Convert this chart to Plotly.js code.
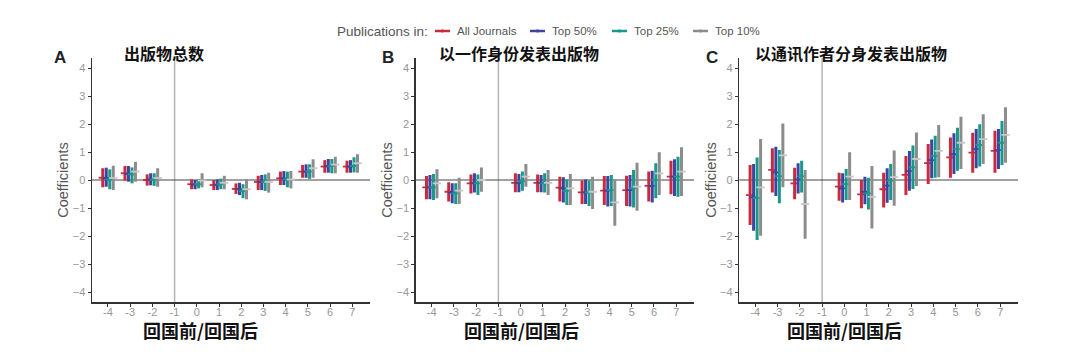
<!DOCTYPE html>
<html><head><meta charset="utf-8">
<script src="https://cdn.plot.ly/plotly-3.0.1.min.js"></script>
<style>html,body{margin:0;padding:0;background:#fff}#chart{width:1080px;height:360px}</style>
</head><body><div id="chart"></div>
<script>
// categories: event time relative to return (-1 is the reference year, no estimate)
const categories = [-4,-3,-2,0,1,2,3,4,5,6,7];
const tickValues = [-4,-3,-2,-1,0,1,2,3,4,5,6,7];
const yTicks = [-4,-3,-2,-1,0,1,2,3,4];
const seriesNames = ['All Journals','Top 50%','Top 25%','Top 10%'];
const legendTitle = 'Publications in:';
const panelTitles = ['出版物总数','以一作身份发表出版物','以通讯作者分身发表出版物'];
const panelLetters = ['A','B','C'];
const xTitle = '回国前/回国后';
const yTitle = 'Coefficients';

// Panel A
const A_all_est = [0.08,0.24,0.00,-0.15,-0.18,-0.32,-0.07,0.06,0.30,0.48,0.48];
const A_all_lo  = [-0.26,-0.02,-0.20,-0.33,-0.36,-0.50,-0.36,-0.18,0.08,0.26,0.26];
const A_all_hi  = [0.42,0.50,0.20,0.02,0.00,-0.12,0.15,0.30,0.54,0.71,0.69];
const A_t50_est = [0.07,0.22,0.02,-0.17,-0.17,-0.33,-0.07,0.06,0.30,0.50,0.48];
const A_t50_lo  = [-0.24,-0.06,-0.19,-0.33,-0.36,-0.54,-0.36,-0.18,0.08,0.26,0.26];
const A_t50_hi  = [0.44,0.50,0.24,0.00,0.02,-0.10,0.18,0.32,0.56,0.75,0.71];
const A_t25_est = [0.02,0.20,0.01,-0.15,-0.15,-0.40,-0.08,0.03,0.30,0.50,0.50];
const A_t25_lo  = [-0.33,-0.12,-0.21,-0.30,-0.33,-0.65,-0.39,-0.26,0.04,0.24,0.27];
const A_t25_hi  = [0.38,0.45,0.24,0.02,0.05,-0.15,0.20,0.30,0.56,0.75,0.81];
const A_t10_est = [0.07,0.30,0.07,-0.02,-0.10,-0.33,-0.07,0.02,0.42,0.55,0.60];
const A_t10_lo  = [-0.36,-0.06,-0.24,-0.26,-0.33,-0.69,-0.45,-0.30,0.08,0.24,0.26];
const A_t10_hi  = [0.51,0.65,0.42,0.24,0.15,0.02,0.26,0.32,0.74,0.83,0.92];

// Panel B
const B_all_est = [-0.26,-0.42,-0.12,-0.10,-0.10,-0.27,-0.44,-0.38,-0.36,-0.21,0.12];
const B_all_lo  = [-0.69,-0.77,-0.48,-0.44,-0.44,-0.77,-0.86,-0.89,-0.93,-0.77,-0.51];
const B_all_hi  = [0.14,-0.08,0.20,0.24,0.20,0.12,-0.02,0.14,0.15,0.30,0.69];
const B_t50_est = [-0.26,-0.45,-0.10,-0.10,-0.10,-0.30,-0.44,-0.38,-0.36,-0.21,0.12];
const B_t50_lo  = [-0.69,-0.83,-0.45,-0.44,-0.44,-0.80,-0.86,-0.95,-0.95,-0.80,-0.57];
const B_t50_hi  = [0.18,-0.12,0.24,0.21,0.18,0.10,0.02,0.14,0.18,0.33,0.74];
const B_t25_est = [-0.26,-0.48,-0.12,-0.05,-0.12,-0.39,-0.44,-0.36,-0.30,0.00,0.12];
const B_t25_lo  = [-0.71,-0.86,-0.54,-0.38,-0.45,-0.89,-0.93,-0.93,-0.98,-0.65,-0.60];
const B_t25_hi  = [0.21,-0.12,0.20,0.30,0.24,0.02,-0.02,0.18,0.36,0.60,0.83];
const B_t10_est = [-0.12,-0.38,0.00,0.12,-0.10,-0.30,-0.42,-0.80,-0.24,0.24,0.30];
const B_t10_lo  = [-0.65,-0.86,-0.42,-0.24,-0.54,-0.89,-1.04,-1.63,-1.10,-0.54,-0.57];
const B_t10_hi  = [0.38,0.08,0.45,0.57,0.36,0.21,0.12,0.02,0.62,0.99,1.17];

// Panel C
const C_all_est = [-0.54,0.36,-0.12,-0.24,-0.51,-0.33,0.18,0.60,0.81,0.98,1.04];
const C_all_lo  = [-1.61,-0.45,-0.69,-0.74,-1.01,-0.98,-0.54,-0.14,0.08,0.26,0.26];
const C_all_hi  = [0.54,1.13,0.44,0.26,0.00,0.26,0.86,1.29,1.52,1.69,1.76];
const C_t50_est = [-0.62,0.27,0.02,-0.30,-0.42,-0.20,0.32,0.71,0.92,1.10,1.07];
const C_t50_lo  = [-1.81,-0.57,-0.48,-0.80,-0.87,-0.81,-0.38,0.06,0.21,0.42,0.39];
const C_t50_hi  = [0.57,1.19,0.60,0.24,0.12,0.42,1.04,1.45,1.67,1.82,1.82];
const C_t25_est = [-0.65,0.14,0.14,-0.15,-0.48,-0.02,0.45,0.86,1.10,1.25,1.33];
const C_t25_lo  = [-2.14,-0.83,-0.45,-0.71,-1.05,-0.71,-0.32,0.08,0.33,0.48,0.54];
const C_t25_hi  = [0.80,1.07,0.69,0.39,0.08,0.57,1.23,1.58,1.87,1.99,2.11];
const C_t10_est = [-0.26,0.88,-0.86,0.12,-0.60,0.10,0.75,1.04,1.33,1.46,1.61];
const C_t10_lo  = [-1.99,-0.26,-2.10,-0.71,-1.73,-0.92,-0.21,0.10,0.39,0.57,0.62];
const C_t10_hi  = [1.46,2.02,0.36,0.99,0.50,1.05,1.70,1.96,2.26,2.35,2.60];

const panels = [
  [[A_all_est,A_all_lo,A_all_hi],[A_t50_est,A_t50_lo,A_t50_hi],[A_t25_est,A_t25_lo,A_t25_hi],[A_t10_est,A_t10_lo,A_t10_hi]],
  [[B_all_est,B_all_lo,B_all_hi],[B_t50_est,B_t50_lo,B_t50_hi],[B_t25_est,B_t25_lo,B_t25_hi],[B_t10_est,B_t10_lo,B_t10_hi]],
  [[C_all_est,C_all_lo,C_all_hi],[C_t50_est,C_t50_lo,C_t50_hi],[C_t25_est,C_t25_lo,C_t25_hi],[C_t10_est,C_t10_lo,C_t10_hi]]
];

const colors = ['#cc2a3c','#3d45a0','#17998c','#8c8c8c'];
const estColors = ['#cc2a3c','#3d45a0','#17998c','#c8c8c8'];
const offsets = [-0.235,-0.078,0.08,0.237];

const W = 1080, H = 360;
const px = v => v / W;
const py = v => (H - v) / H;
const xDomains = [[92,370],[415.7,694],[739.3,1018]];
const yDom = [py(302), py(58)];

const traces = [];
panels.forEach((series, p) => {
  const sfx = p === 0 ? '' : String(p + 1);
  series.forEach((s, k) => {
    const [est, lo, hi] = s;
    const xs = [], ys = [];
    categories.forEach((c, i) => {
      xs.push(c + offsets[k], c + offsets[k], null);
      ys.push(lo[i], hi[i], null);
    });
    traces.push({
      type: 'scatter', mode: 'lines', x: xs, y: ys,
      xaxis: 'x' + sfx, yaxis: 'y' + sfx,
      line: {color: colors[k], width: 3},
      name: seriesNames[k], showlegend: false, hoverinfo: 'skip'
    });
    traces.push({
      type: 'scatter', mode: 'markers',
      x: categories.map(c => c + offsets[k]), y: est,
      xaxis: 'x' + sfx, yaxis: 'y' + sfx,
      marker: {symbol: 'line-ew', size: 6, line: {color: estColors[k], width: 1.8}},
      name: seriesNames[k], showlegend: false
    });
  });
});

const tickFont = {family: 'Liberation Sans, Arial, sans-serif', size: 11, color: '#969696'};
const sans = 'Liberation Sans, Arial, sans-serif';
const layout = {
  width: W, height: H,
  margin: {l: 0, r: 0, t: 0, b: 0},
  paper_bgcolor: '#fff', plot_bgcolor: '#fff',
  showlegend: false,
  shapes: [], annotations: []
};

// legend (manual, compact like the reference)
const legendLineX = [435, 530, 612, 693];
layout.annotations.push({xref: 'paper', yref: 'paper', x: px(335), y: py(31), xanchor: 'left', yanchor: 'middle',
  text: legendTitle, showarrow: false, font: {family: sans, size: 13.5, color: '#555'}});
seriesNames.forEach((n, k) => {
  layout.shapes.push({type: 'line', xref: 'paper', yref: 'paper', x0: px(legendLineX[k]), x1: px(legendLineX[k] + 15),
    y0: py(31), y1: py(31), line: {color: colors[k], width: 2.5}});
  layout.shapes.push({type: 'line', xref: 'paper', yref: 'paper', x0: px(legendLineX[k] + 7.5), x1: px(legendLineX[k] + 7.5),
    y0: py(29.5), y1: py(32.5), line: {color: colors[k], width: 2}});
  layout.annotations.push({xref: 'paper', yref: 'paper', x: px(legendLineX[k] + 20), y: py(31), xanchor: 'left', yanchor: 'middle',
    text: n, showarrow: false, font: {family: sans, size: 11.5, color: '#555'}});
});

const cjk = '"Noto Sans CJK SC", sans-serif';
const titleX = [122, 437, 753];
const letterX = [60, 388, 712];
const xTitleX = [200, 521, 844];

xDomains.forEach((d, p) => {
  const sfx = p === 0 ? '' : String(p + 1);
  layout['xaxis' + sfx] = {
    domain: [px(d[0]), px(d[1])], anchor: 'y' + sfx,
    range: [-4.72, 7.8], tickmode: 'array', tickvals: tickValues,
    ticktext: tickValues.map(String),
    showgrid: false, zeroline: false, showline: true, linecolor: '#333', linewidth: 1.5,
    ticks: 'outside', ticklen: 3, tickcolor: '#333', tickfont: tickFont, automargin: false,
    ticklabelstandoff: -4
  };
  layout['yaxis' + sfx] = {
    domain: yDom, anchor: 'x' + sfx,
    range: [-4.357, 4.357], tickmode: 'array', tickvals: yTicks,
    showgrid: false, zeroline: false, showline: true, linecolor: '#333', linewidth: 1.5,
    ticks: 'outside', ticklen: 3, tickcolor: '#333', tickfont: tickFont, automargin: false,
    title: {text: yTitle, standoff: 0, font: {family: sans, size: 14.5, color: '#555'}}
  };
  layout.shapes.push({type: 'line', xref: 'x' + sfx, yref: 'y' + sfx + ' domain', x0: -1, x1: -1, y0: 0, y1: 1,
    line: {color: '#b5b5b5', width: 1.5}, layer: 'below'});
  layout.shapes.push({type: 'line', xref: 'x' + sfx + ' domain', yref: 'y' + sfx, x0: 0, x1: 1, y0: 0, y1: 0,
    line: {color: '#444', width: 1}, layer: 'below'});
  layout.annotations.push({xref: 'paper', yref: 'paper', x: px(titleX[p]), y: py(53), xanchor: 'left', yanchor: 'middle',
    text: panelTitles[p], showarrow: false, font: {family: cjk, size: 16, color: '#111', weight: 'bold'}});
  layout.annotations.push({xref: 'paper', yref: 'paper', x: px(letterX[p]), y: py(57), xanchor: 'center', yanchor: 'middle',
    text: '<b>' + panelLetters[p] + '</b>', showarrow: false, font: {family: sans, size: 17, color: '#222'}});
  layout.annotations.push({xref: 'paper', yref: 'paper', x: px(xTitleX[p]), y: py(330), xanchor: 'center', yanchor: 'middle',
    text: xTitle, showarrow: false, font: {family: cjk, size: 18, color: '#111', weight: 'bold'}});
});

Plotly.newPlot('chart', traces, layout, {displayModeBar: false, staticPlot: true});
</script></body></html>
